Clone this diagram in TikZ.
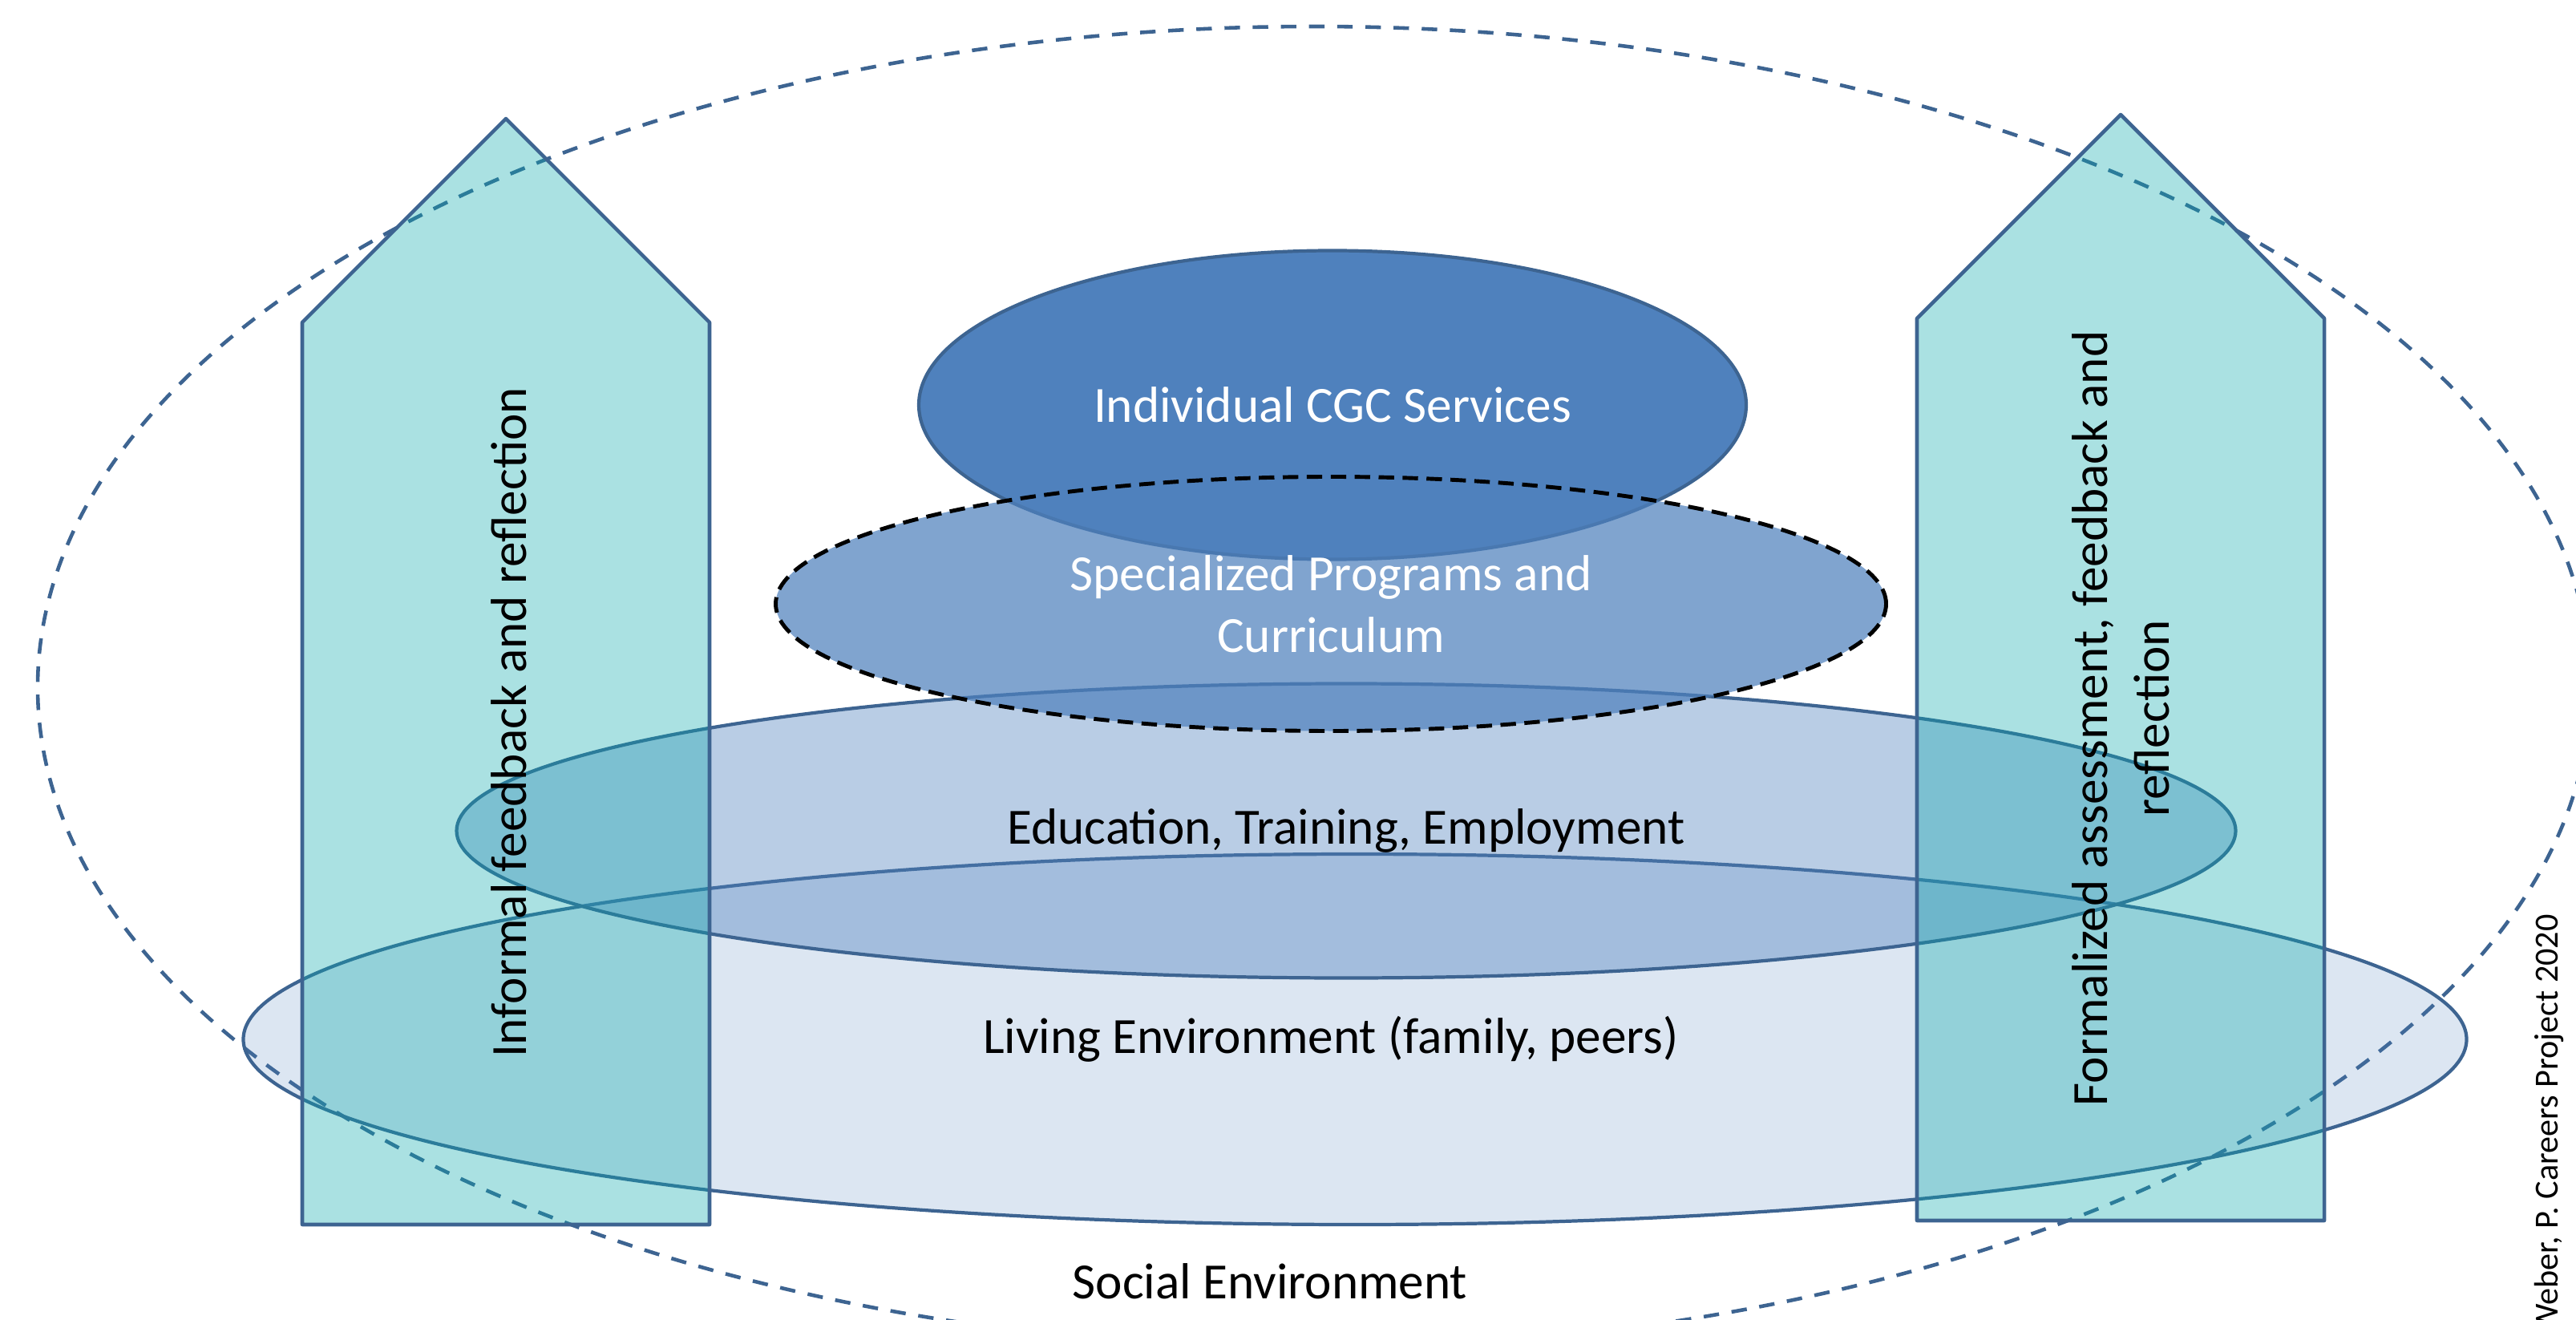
\documentclass[tikz,border=0pt]{standalone}
\usepackage{fontspec}
\setmainfont{Carlito}
\usepackage{tikz}
\usetikzlibrary{shapes}

\definecolor{edgeblue}{RGB}{61,100,145}
\definecolor{coreblue}{RGB}{79,129,189}
\definecolor{arrowteal}{RGB}{12,169,172}

\begin{document}
\begin{tikzpicture}[
  envell/.style={ellipse, draw=edgeblue, line width=1.2pt, inner sep=0pt, text opacity=1, font=\fontsize{18}{22}\selectfont},
  feedarrow/.style={draw=edgeblue, line width=1.3pt, line join=round, fill=arrowteal, fill opacity=0.35},
  lbl/.style={font=\fontsize{18}{22}\selectfont, inner sep=0pt}
]
\useasboundingbox (0,0) rectangle (32.13,-16.46);

\node (SE) at (16.39,-8.57) [ellipse, draw=edgeblue, line width=1.3pt, dash pattern=on 5.5pt off 4.5pt, minimum width=31.84cm, minimum height=16.48cm] {};

\node (LE) at (16.90,-12.96) [envell, fill=coreblue, fill opacity=0.2, minimum width=27.73cm, minimum height=4.62cm] {\hspace*{-0.6cm}Living Environment (family, peers)};
\node (ETE) at (16.79,-10.36) [envell, fill=coreblue, fill opacity=0.4, minimum width=22.19cm, minimum height=3.67cm] {Education, Training, Employment};
\node (CGC) at (16.62,-5.05) [envell, fill=coreblue, text=white, minimum width=10.32cm, minimum height=3.85cm] {Individual CGC Services};
\node (SPC) at (16.60,-7.53) [envell, draw=black, line width=1.4pt, dash pattern=on 5.5pt off 3pt, fill=coreblue, fill opacity=0.72, text=white, align=center, minimum width=13.85cm, minimum height=3.17cm] {Specialized Programs and\\Curriculum};

\draw [feedarrow] (3.77,-15.27) -- (3.77,-4.02) -- (6.31,-1.48) -- (8.85,-4.02) -- (8.85,-15.27) -- cycle;
\draw [feedarrow] (23.91,-15.22) -- (23.91,-3.97) -- (26.45,-1.43) -- (28.99,-3.97) -- (28.99,-15.22) -- cycle;

\node (IFR) at (6.35,-9.01) [lbl, rotate=90] {Informal feedback and reflection};
\node (FAF) at (26.45,-8.96) [lbl, rotate=90, align=center] {Formalized assessment, feedback and\\reflection};

\node (SEL) at (15.84,-15.98) [lbl] {Social Environment};
\node (CRD) at (31.90,-16.64) [anchor=base west, rotate=90, inner sep=0pt, font=\fontsize{12}{14}\selectfont] {Weber, P. Careers Project 2020};
\end{tikzpicture}
\end{document}
